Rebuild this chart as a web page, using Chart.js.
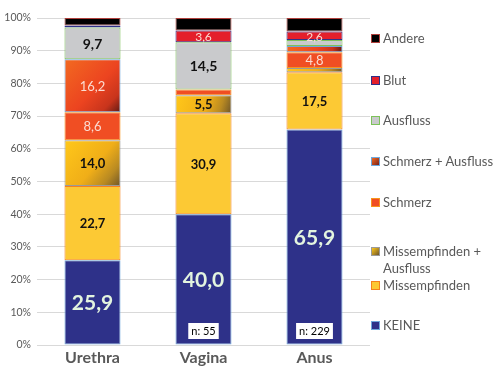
<!DOCTYPE html>
<html>
<head>
<meta charset="utf-8">
<script src="https://cdn.jsdelivr.net/npm/chart.js@4.4.1/dist/chart.umd.min.js"></script>
<style>
html, body { margin: 0; padding: 0; background: #fff; }
#wrap { position: relative; width: 500px; height: 372px; }
#legend { position: absolute; left: 371px; top: 0; font-family: Lato, sans-serif; font-size: 13px; color: #595959; }
.item { position: absolute; left: 0; white-space: nowrap; }
.box { position: absolute; left: 0; width: 7px; height: 7px; border: 1px solid; }
.txt { position: absolute; left: 12px; line-height: 17px; }
</style>
</head>
<body>
<div id="wrap">
  <canvas id="StackChart" width="500" height="372"></canvas>
  <div id="legend"></div>
</div>
<script>
// data, bottom segment first
var categories = ["Urethra", "Vagina", "Anus"];
var nLabels = ["", "n: 55", "n: 229"];
var seriesNames = ["KEINE", "Missempfinden", "Missempfinden + Ausfluss", "Schmerz", "Schmerz + Ausfluss", "Ausfluss", "Blut", "Andere"];
var keine = [25.9, 40.0, 65.9];
var missempfinden = [22.7, 30.9, 17.5];
var missAusfluss = [14.0, 5.5, 1.3];
var schmerz = [8.6, 1.7, 4.8];
var schmerzAusfluss = [16.2, 0, 1.9];
var ausfluss = [9.7, 14.5, 1.9];
var blut = [0.6, 3.6, 2.6];
var andere = [2.3, 3.8, 4.1];
var yTicks = [0, 10, 20, 30, 40, 50, 60, 70, 80, 90, 100];

var seriesData = [keine, missempfinden, missAusfluss, schmerz, schmerzAusfluss, ausfluss, blut, andere];

function segmentGradient(stops, fallback) {
   return function (context) {
      var chart = context.chart;
      if (!chart.chartArea || context.type !== 'data') return fallback;
      var i = context.dataIndex, di = context.datasetIndex;
      var below = 0;
      for (var k = 0; k < di; k++) below += chart.data.datasets[k].data[i] || 0;
      var top = below + (context.raw || 0);
      var cx = chart.scales.x.getPixelForValue(i);
      var g = chart.ctx.createLinearGradient(cx - 28, chart.scales.y.getPixelForValue(top), cx + 28, chart.scales.y.getPixelForValue(below));
      stops.forEach(function (s) { g.addColorStop(s[0], s[1]); });
      return g;
   };
}

var styles = [
   { fill: '#2E3189', border: '#6FA8DC', css: '#2E3189' },
   { fill: '#FCC934', border: '#F58220', css: '#FCC934' },
   { fill: segmentGradient([[0, '#FFC81A'], [0.55, '#F0AE18'], [0.8, '#B98A22'], [1, '#6E5528']], '#E0A520'), border: '#9A9A9A', css: 'linear-gradient(135deg,#FFC81A,#6E5528)' },
   { fill: '#F04E23', border: '#F7941D', css: '#F04E23' },
   { fill: segmentGradient([[0, '#F26A21'], [0.55, '#EC4420'], [0.82, '#C8341C'], [1, '#5E1A14']], '#EC4420'), border: '#6FA8DC', css: 'linear-gradient(135deg,#F26A21,#7a2018)' },
   { fill: '#C9CACC', border: '#7DC25A', css: '#C9CACC' },
   { fill: '#E41F2B', border: '#2E3189', css: '#E41F2B' },
   { fill: '#000000', border: '#B0403C', css: '#000000' }
];

var labelStyles = [
   { font: 'bold 21px Lato', color: '#E3F4DF' },
   { font: 'bold 13px Lato', color: '#111111' },
   { font: 'bold 13px Lato', color: '#111111' },
   { font: '13px Lato', color: '#FBDCD2' },
   { font: '13px Lato', color: '#FBDCD2' },
   { font: 'bold 14px Lato', color: '#111111' },
   { font: '12px Lato', color: '#FBDCD2' },
   null
];

var datasets = seriesNames.map(function (name, di) {
   return {
      label: name,
      data: seriesData[di],
      backgroundColor: styles[di].fill,
      borderColor: styles[di].border,
      borderWidth: function (c) { return c.raw ? 1 : 0; },
      borderSkipped: false,
      categoryPercentage: 1,
      barPercentage: 0.505
   };
});

var valueLabels = {
   id: 'valueLabels',
   afterDatasetsDraw: function (chart) {
      var ctx = chart.ctx;
      ctx.save();
      ctx.textAlign = 'center';
      ctx.textBaseline = 'middle';
      chart.data.datasets.forEach(function (ds, di) {
         var st = labelStyles[di];
         if (!st) return;
         chart.getDatasetMeta(di).data.forEach(function (bar, i) {
            var v = ds.data[i];
            if (!v || v < 2.5) return;
            ctx.font = st.font;
            ctx.fillStyle = st.color;
            ctx.fillText(v.toFixed(1).replace('.', ','), bar.x, (bar.y + bar.base) / 2 + 1);
         });
      });
      // n boxes
      var y0 = chart.scales.y.getPixelForValue(0);
      ctx.font = '11px Lato';
      chart.getDatasetMeta(0).data.forEach(function (bar, i) {
         if (!nLabels[i]) return;
         var w = ctx.measureText(nLabels[i]).width + 6;
         ctx.fillStyle = '#ffffff';
         ctx.fillRect(bar.x - w / 2, y0 - 22, w, 16);
         ctx.fillStyle = '#000000';
         ctx.fillText(nLabels[i], bar.x, y0 - 13.5);
      });
      ctx.restore();
   }
};

var chartCanvas = document.getElementById('StackChart').getContext('2d');
var StackChart = new Chart(chartCanvas, {
   type: 'bar',
   data: { labels: categories, datasets: datasets },
   options: {
      responsive: false,
      animation: false,
      layout: { padding: { top: 18, right: 130, left: 0, bottom: 0 } },
      plugins: {
         legend: { display: false },
         tooltip: { enabled: false }
      },
      scales: {
         x: {
            stacked: true,
            grid: { display: false, drawTicks: false },
            border: { display: false },
            ticks: { color: '#595959', font: { family: 'Lato', size: 16, weight: 'bold' }, padding: 3 },
            afterFit: function (s) { s.height = 27; }
         },
         y: {
            stacked: true,
            min: 0,
            max: 100,
            afterBuildTicks: function (s) { s.ticks = yTicks.map(function (v) { return { value: v }; }); },
            ticks: {
               color: '#595959',
               font: { family: 'Lato', size: 10.5 },
               padding: 6,
               callback: function (v) { return v + '%'; }
            },
            grid: { color: '#D9D9D9', lineWidth: 1, drawTicks: false },
            border: { display: false },
            afterFit: function (s) { s.width = 37; }
         }
      }
   },
   plugins: [valueLabels]
});

// legend, top item = last series
var legendTops = [326, 286, 252, 203, 162, 121, 81, 39];
var legendEl = document.getElementById('legend');
seriesNames.forEach(function (name, di) {
   var item = document.createElement('div');
   item.className = 'item';
   item.style.top = (legendTops[di] - 5) + 'px';
   var box = document.createElement('div');
   box.className = 'box';
   box.style.background = styles[di].css;
   box.style.borderColor = styles[di].border;
   box.style.top = '0px';
   var txt = document.createElement('div');
   txt.className = 'txt';
   txt.style.top = '-4px';
   txt.innerHTML = name === 'Missempfinden + Ausfluss' ? 'Missempfinden +<br>Ausfluss' : name;
   item.appendChild(box);
   item.appendChild(txt);
   legendEl.appendChild(item);
});
</script>
</body>
</html>
